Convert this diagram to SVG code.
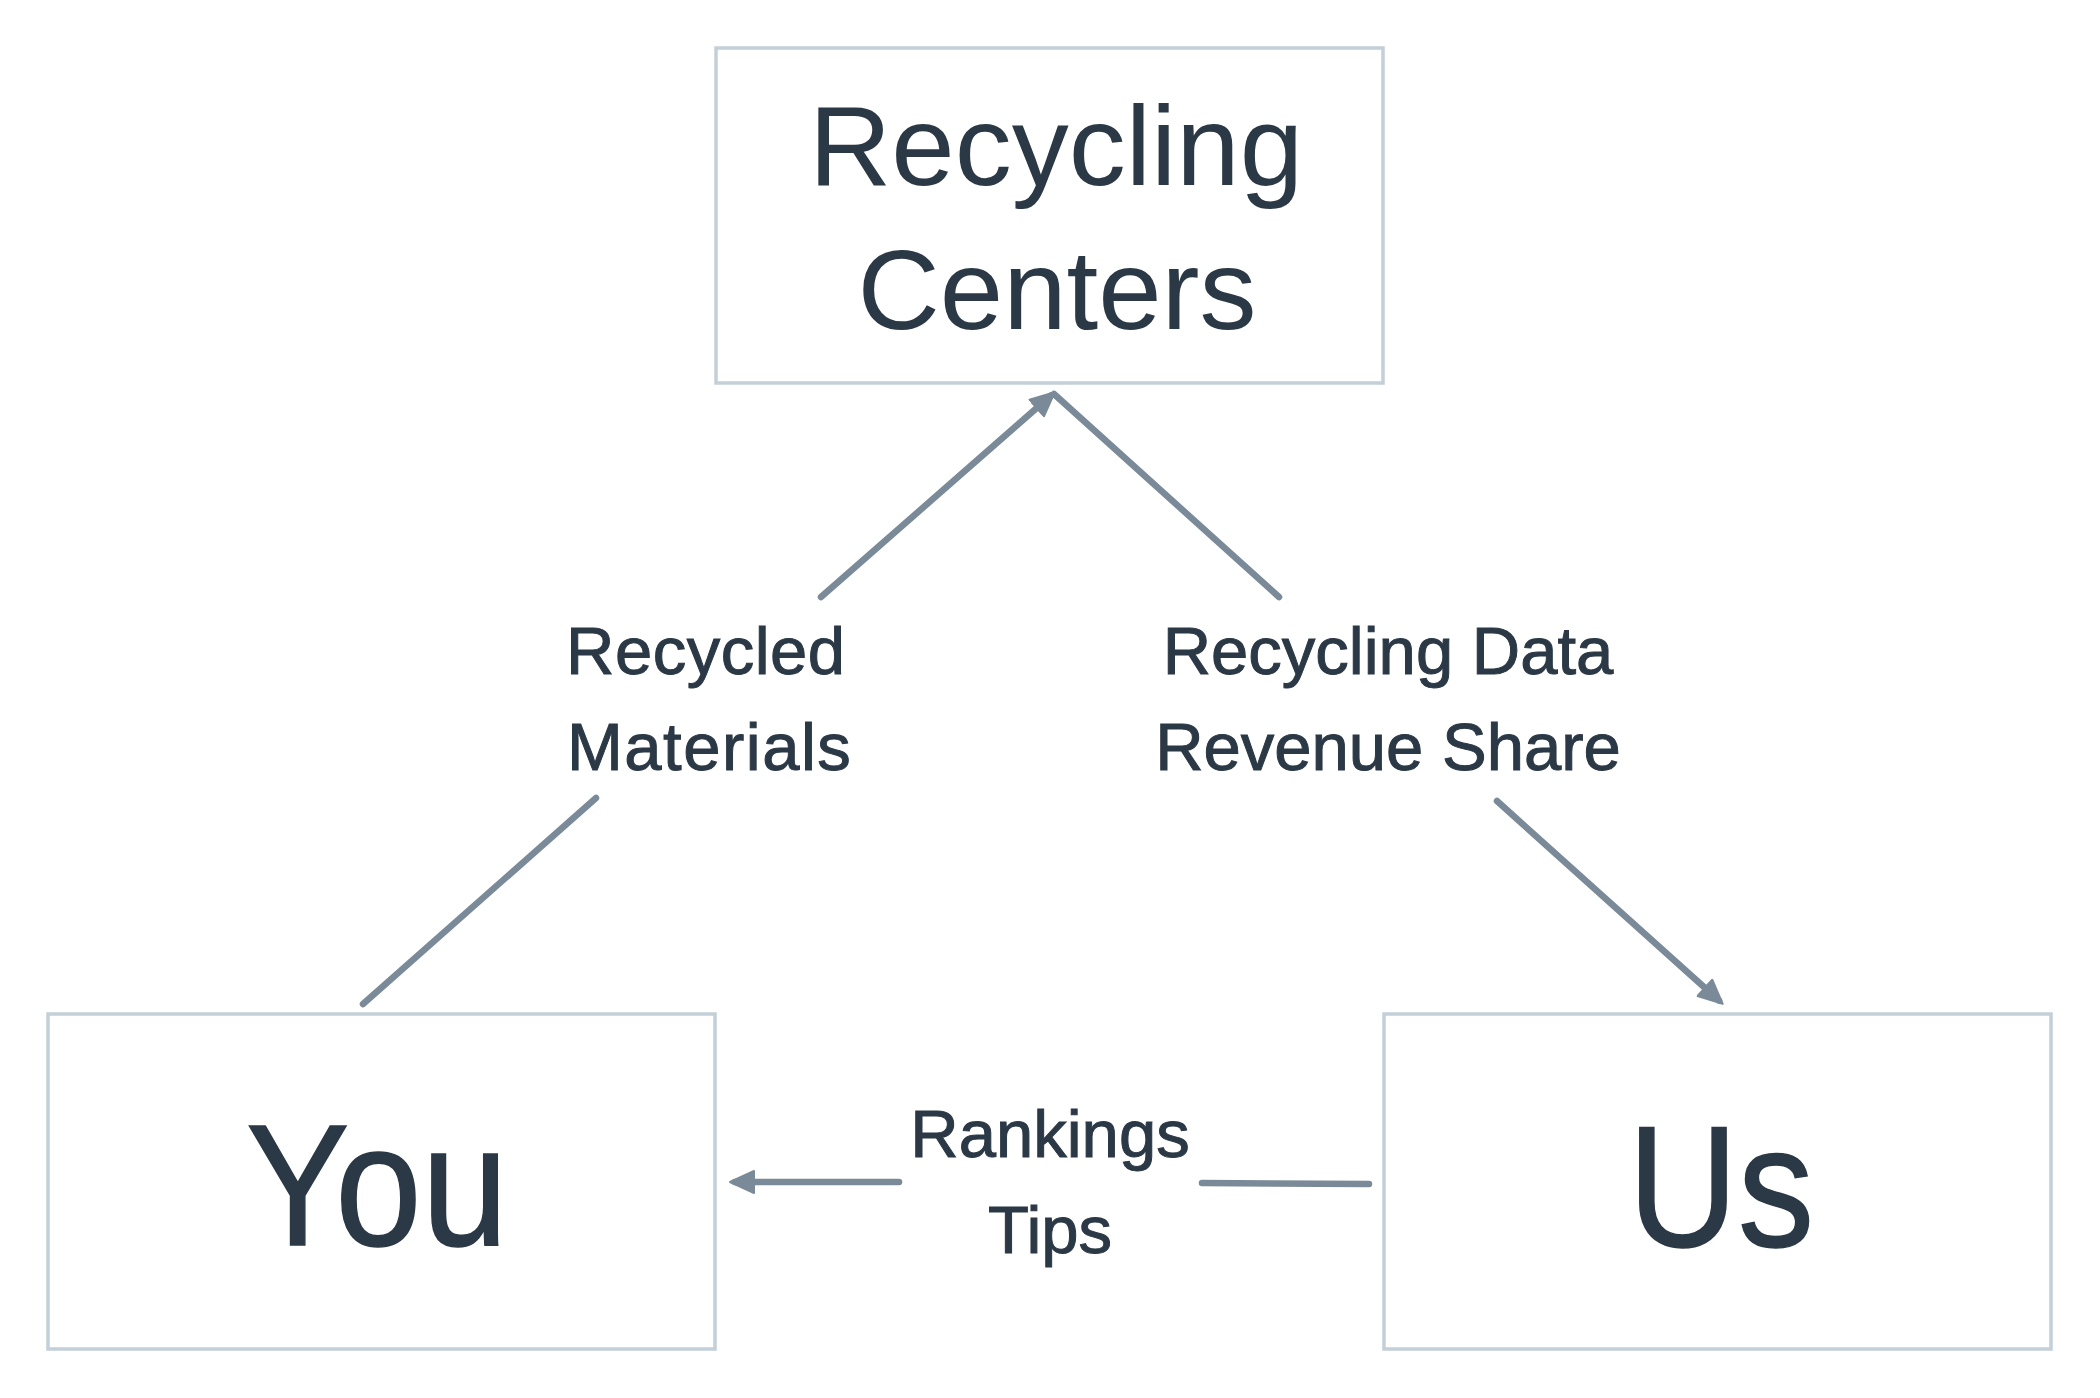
<svg xmlns="http://www.w3.org/2000/svg" width="2100" height="1398" viewBox="0 0 2100 1398">
<defs>
<style>
.box{fill:#ffffff;stroke:#c3cfd9;stroke-width:3.5}
.lbl{font-family:"Liberation Sans",Arial,sans-serif;fill:#2b3845}
.node{font-size:114px;text-anchor:middle}
.big{font-size:172px;text-anchor:middle;stroke:#2b3845;stroke-width:1.5}
.edge{font-size:67px;stroke:#2b3845;stroke-width:1}
.conn{fill:none;stroke:#7b8a98;stroke-width:6.5;stroke-linecap:round}
</style>
<marker id="arr" markerUnits="userSpaceOnUse" markerWidth="30" markerHeight="30" viewBox="0 0 30 30" refX="20" refY="12" orient="auto">
<path d="M1,1 L25,12 L1,23 Z" fill="#7b8a98" stroke="#7b8a98" stroke-width="2" stroke-linejoin="round"/>
</marker>
</defs>
<rect width="2100" height="1398" fill="#ffffff"/>
<g id="node-recycling-centers">
<rect class="box" x="716" y="48" width="667" height="335"/>
<text class="lbl node" x="1056" y="185">Recycling</text>
<text class="lbl node" x="1057" y="329">Centers</text>
</g>
<g id="node-you">
<rect class="box" x="48" y="1014" width="667" height="335"/>
<text class="lbl big" x="377" y="1245" textLength="262" lengthAdjust="spacingAndGlyphs">You</text>
</g>
<g id="node-us">
<rect class="box" x="1384" y="1014" width="667" height="335"/>
<text class="lbl big" x="1721" y="1246" textLength="186" lengthAdjust="spacingAndGlyphs">Us</text>
</g>
<g id="connectors">
<line class="conn" x1="363" y1="1004" x2="596" y2="798"/>
<line class="conn" x1="821" y1="597" x2="1051" y2="395.5" marker-end="url(#arr)"/>
<line class="conn" x1="1054" y1="394" x2="1279" y2="597"/>
<line class="conn" x1="1497" y1="801" x2="1719" y2="1000.5" marker-end="url(#arr)"/>
<line class="conn" x1="1369" y1="1184" x2="1202" y2="1183"/>
<line class="conn" x1="899" y1="1182" x2="735" y2="1182" marker-end="url(#arr)"/>
<g id="edge-labels">
<text class="lbl edge" x="566" y="674" letter-spacing="0.5">Recycled</text>
<text class="lbl edge" x="567" y="770" letter-spacing="1.5">Materials</text>
<text class="lbl edge" x="1388" y="674" text-anchor="middle">Recycling Data</text>
<text class="lbl edge" x="1388" y="770" text-anchor="middle">Revenue Share</text>
<text class="lbl edge" x="1050" y="1157" text-anchor="middle">Rankings</text>
<text class="lbl edge" x="1050" y="1253" text-anchor="middle">Tips</text>
</g>
</g>
</svg>
